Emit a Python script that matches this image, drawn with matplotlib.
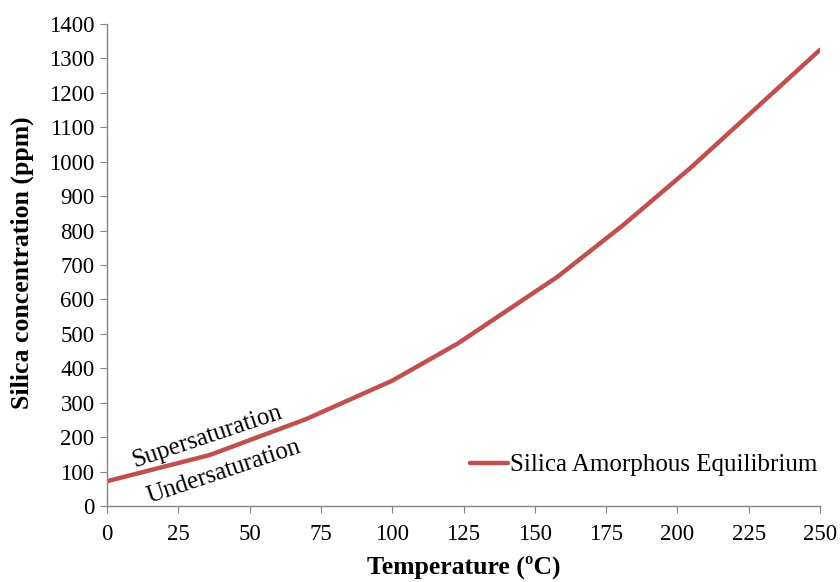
import matplotlib
matplotlib.use('Agg')
import matplotlib.pyplot as plt

# data
temperature = [0, 36, 70, 100, 123, 158, 181, 205, 250]
silica_ppm = [72, 148, 253, 364, 472, 666, 816, 985, 1325]
x_ticks = [0, 25, 50, 75, 100, 125, 150, 175, 200, 225, 250]
y_ticks = list(range(0, 1401, 100))

plt.rcParams['font.family'] = ['Liberation Serif', 'DejaVu Serif']

fig = plt.figure(figsize=(8.4, 5.82), dpi=100)
ax = fig.add_axes([0.1274, 0.1306, 0.8488, 0.8282])

# the equilibrium curve
ax.plot(temperature, silica_ppm, color='#C0504D', linewidth=3.2,
        solid_capstyle='round', solid_joinstyle='round',
        label='Silica Amorphous Equilibrium')

ax.set_xlim(0, 250)
ax.set_ylim(0, 1400)
ax.set_xticks(x_ticks)
ax.set_yticks(y_ticks)

# axis styling
for side in ['top', 'right']:
    ax.spines[side].set_visible(False)
for side in ['left', 'bottom']:
    ax.spines[side].set_color('#868686')
    ax.spines[side].set_linewidth(1.0)
ax.tick_params(direction='out', length=5, color='#868686', labelsize=16.5,
               labelcolor='black', pad=4)
ax.tick_params(axis='x', pad=8)

ax.set_xlabel('Temperature (ºC)', fontsize=18.5, fontweight='bold')
ax.set_ylabel('Silica concentration (ppm)', fontsize=18.5, fontweight='bold')
ax.xaxis.set_label_coords(0.5, -0.103)
ax.yaxis.set_label_coords(-0.102, 0.504)

# region labels along the curve
ax.text(35, 200, 'Supersaturation', fontsize=18, rotation=18.5,
        ha='center', va='center')
ax.text(41, 98, 'Undersaturation', fontsize=18, rotation=18.5,
        ha='center', va='center')

ax.legend(loc='center right', bbox_to_anchor=(1.011, 0.085), frameon=False,
          fontsize=18, handlelength=1.5, handletextpad=0.1,
          borderaxespad=0)

fig.savefig('out.png', dpi=100)
